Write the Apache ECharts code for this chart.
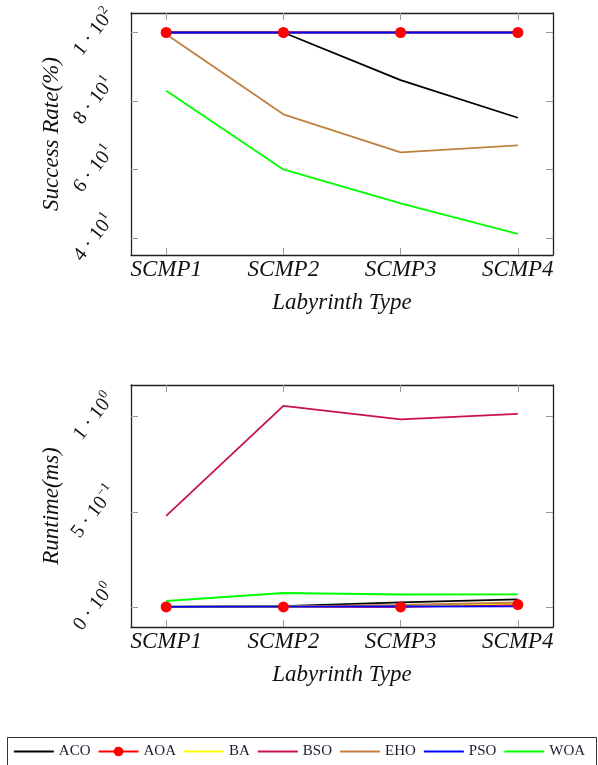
<!DOCTYPE html>
<html>
<head>
<meta charset="utf-8">
<script src="https://cdn.jsdelivr.net/npm/echarts@6/dist/echarts.min.js"></script>
<style>
html,body{margin:0;padding:0;background:#fff;}
#c{width:598px;height:765px;}
</style>
</head>
<body>
<div id="c"></div>
<script>
// ---- data ----
var categories = ['SCMP1', 'SCMP2', 'SCMP3', 'SCMP4'];
var seriesNames = ['ACO', 'AOA', 'BA', 'BSO', 'EHO', 'PSO', 'WOA'];
var seriesColors = ['#000000', '#ff0000', '#ffff00', '#c8124f', '#bf8040', '#0000ff', '#00ff00'];

// Success rate (%)
var successACO = [100, 100, 86.1, 75.1];
var successAOA = [100, 100, 100, 100];
var successBA  = [100, 100, 100, 100];
var successBSO = [100, 100, 100, 100];
var successEHO = [99.5, 76.1, 65.0, 67.0];
var successPSO = [100, 100, 100, 100];
var successWOA = [83.0, 60.0, 50.1, 41.2];

// Runtime (ms)
var runtimeACO = [0.003, 0.006, 0.026, 0.042];
var runtimeAOA = [0.002, 0.002, 0.002, 0.014];
var runtimeBA  = [0.000, 0.003, 0.008, 0.020];
var runtimeBSO = [0.480, 1.057, 0.986, 1.015];
var runtimeEHO = [0.002, 0.004, 0.012, 0.025];
var runtimePSO = [0.002, 0.003, 0.004, 0.005];
var runtimeWOA = [0.033, 0.075, 0.067, 0.068];

// tick labels
var topTickValues = [40, 60, 80, 100];
var topTickMant = ['4', '6', '8', '1'];
var topTickExp = ['1', '1', '1', '2'];
var botTickValues = [0, 0.5, 1];
var botTickMant = ['0', '5', '1'];
var botTickExp = ['0', '\u22121', '0'];

var topTitle = 'Success Rate(%)';
var botTitle = 'Runtime(ms)';
var xTitle = 'Labyrinth Type';

// ---- build ----
var successData = [successACO, successAOA, successBA, successBSO, successEHO, successPSO, successWOA];
var runtimeData = [runtimeACO, runtimeAOA, runtimeBA, runtimeBSO, runtimeEHO, runtimePSO, runtimeWOA];
var catPos = categories.map(function (c, i) { return i + 1; });

var FONT = "'Liberation Serif', 'DejaVu Serif', serif";
var TXT = '#111';

function pairs(arr) { return arr.map(function (v, i) { return [catPos[i], v]; }); }

function tickFmt(values, mant, exp) {
  return function (v) {
    for (var i = 0; i < values.length; i++) {
      if (Math.abs(values[i] - v) < 1e-9) return '{m|' + mant[i] + ' \u00b7 10}{e|' + exp[i] + '}';
    }
    return '';
  };
}

var tickStyle = { show: true, inside: true, length: 7, lineStyle: { color: '#999', width: 1 } };
var lineAx = { show: true, onZero: false, lineStyle: { color: '#222', width: 1.3 } };

function xAxes(gi) {
  return [
    {
      type: 'value', gridIndex: gi, min: 0.7, max: 4.3, position: 'bottom',
      axisLine: lineAx, splitLine: { show: false },
      axisTick: Object.assign({ customValues: catPos }, tickStyle),
      axisLabel: {
        customValues: catPos, margin: 3,
        formatter: function (v) { return categories[Math.round(v) - 1] || ''; },
        fontFamily: FONT, fontStyle: 'italic', fontSize: 23, color: TXT
      },
      name: xTitle, nameLocation: 'middle', nameGap: 36, nameMoveOverlap: false,
      nameTextStyle: { fontFamily: FONT, fontStyle: 'italic', fontSize: 23, color: TXT }
    },
    {
      type: 'value', gridIndex: gi, min: 0.7, max: 4.3, position: 'top',
      axisLine: lineAx, splitLine: { show: false },
      axisTick: Object.assign({ customValues: catPos }, tickStyle),
      axisLabel: { show: false, customValues: catPos }
    }
  ];
}

function yAxes(gi, min, max, vals, mant, exp, title) {
  return [
    {
      type: 'value', gridIndex: gi, min: min, max: max, position: 'left',
      axisLine: lineAx, splitLine: { show: false },
      axisTick: Object.assign({ customValues: vals }, tickStyle),
      axisLabel: {
        customValues: vals, rotate: 52, margin: 37, align: 'center', verticalAlign: 'middle',
        fontSize: 20, fontFamily: FONT, color: TXT,
        formatter: tickFmt(vals, mant, exp),
        rich: {
          m: { fontFamily: FONT, fontSize: 20, color: TXT, lineHeight: 26, verticalAlign: 'middle' },
          e: { fontFamily: FONT, fontSize: 13, color: TXT, lineHeight: 26, verticalAlign: 'top' }
        }
      },
      name: title, nameLocation: 'middle', nameGap: 68, nameRotate: 90, nameMoveOverlap: false,
      nameTextStyle: { fontFamily: FONT, fontStyle: 'italic', fontSize: 23, color: TXT }
    },
    {
      type: 'value', gridIndex: gi, min: min, max: max, position: 'right',
      axisLine: lineAx, splitLine: { show: false },
      axisTick: Object.assign({ customValues: vals }, tickStyle),
      axisLabel: { show: false, customValues: vals }
    }
  ];
}

var series = [];
[successData, runtimeData].forEach(function (dataset, gi) {
  seriesNames.forEach(function (name, si) {
    var isAOA = name === 'AOA';
    series.push({
      name: name, type: 'line',
      xAxisIndex: gi * 2, yAxisIndex: gi * 2,
      data: pairs(dataset[si]),
      color: seriesColors[si],
      lineStyle: { color: seriesColors[si], width: 1.8 },
      itemStyle: { color: seriesColors[si] },
      showSymbol: isAOA, symbol: isAOA ? 'circle' : 'none', symbolSize: 11,
      silent: true, animation: false
    });
  });
});

var legendData = seriesNames.map(function (n) {
  return n === 'AOA' ? { name: n } : { name: n, itemStyle: { opacity: 0 } };
});

var option = {
  backgroundColor: '#fff',
  animation: false,
  grid: [
    { left: 131, right: 45, top: 13, bottom: 510 },
    { left: 131, right: 45, top: 385, bottom: 138 }
  ],
  xAxis: xAxes(0).concat(xAxes(1)),
  yAxis: yAxes(0, 35, 105.7, topTickValues, topTickMant, topTickExp, topTitle)
    .concat(yAxes(1, -0.1035, 1.1665, botTickValues, botTickMant, botTickExp, botTitle)),
  legend: {
    data: legendData, left: 'center', top: 739,
    itemWidth: 40, itemHeight: 12, itemGap: 7,
    textStyle: { fontFamily: FONT, fontSize: 15, color: '#1c1c30' }
  },
  graphic: [{
    type: 'rect', left: 5, top: 735, shape: { width: 589, height: 28 },
    style: { fill: 'none', stroke: '#333', lineWidth: 1 }, silent: true
  }],
  series: series
};

var chart = echarts.init(document.getElementById('c'), null, { renderer: 'canvas' });
chart.setOption(option);
</script>
</body>
</html>
